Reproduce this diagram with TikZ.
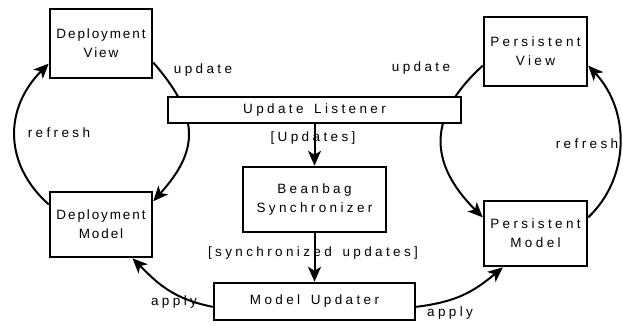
\documentclass[tikz,border=0pt]{standalone}
\usepackage{fontspec}
\setmainfont[LetterSpace=25,WordSpace=1.5]{Liberation Sans}
\newfontfamily\squeezed[LetterSpace=14]{Liberation Sans}
\usetikzlibrary{arrows.meta,backgrounds}

\tikzset{
  box/.style={draw, line width=2.5pt, fill=white, align=center, inner sep=1pt,
    font=\fontsize{13.5}{19}\selectfont},
  lbl/.style={inner sep=0pt, font=\fontsize{13.5}{15}\selectfont},
  flow/.style={line width=2pt, -{Stealth[length=15pt,width=13pt,inset=4pt]}}
}

\begin{document}
\begin{tikzpicture}[x=1pt,y=-1pt]
            \useasboundingbox (0,0) rectangle (623,325);
            \node[box, minimum width=102pt, minimum height=69pt] (dview) at (101,43.5) {\squeezed Deployment\\\squeezed View};
            \node[box, minimum width=103pt, minimum height=69pt] (pview) at (535.5,51.5) {Persistent\\View};
            \node[box, minimum width=102pt, minimum height=65pt] (dmodel) at (101,224.5) {\squeezed Deployment\\\squeezed Model};
            \node[box, minimum width=103pt, minimum height=65pt] (pmodel) at (535.5,233.5) {Persistent\\Model};
            \node[box, minimum width=293pt, minimum height=26pt] (listener) at (314.5,110) {Update Listener};
            \node[box, minimum width=143pt, minimum height=65pt] (sync) at (314.5,199.5) {Beanbag\\Synchronizer};
            \node[box, minimum width=201pt, minimum height=37pt] (updater) at (314.5,301.5) {Model Updater};
            \node[lbl] (upd1) at (203,70) {update};
            \node[lbl] (upd2) at (421,68) {update};
            \node[lbl] (ref1) at (59,133) {refresh};
            \node[lbl] (ref2) at (587,144) {refresh};
            \node[lbl] (updates) at (313,138) {[Updates]};
            \node[lbl] (syncupd) at (313,253) {[synchronized updates]};
            \node[lbl] (app1) at (174,302) {apply};
            \node[lbl] (app2) at (450,313) {apply};
            \begin{pgfonlayer}{background}
            \draw[flow] (dview.-20) .. controls +(48,55) and +(45,-50) .. (dmodel.24);
            \draw[flow] (dmodel.159) .. controls +(-45,-40) and +(-45,45) .. (dview.201);
            \draw[flow] (pview.195) .. controls +(-55,50) and +(-55,-55) .. (pmodel.163);
            \draw[flow] (pmodel.17) .. controls +(42,-40) and +(42,45) .. (pview.-15);
            \draw[flow] (updater.183) .. controls +(-40,-8) and +(25,25) .. (dmodel.-47);
            \draw[flow] (updater.-3) .. controls +(40,-5) and +(-30,25) .. (pmodel.-134);
            \draw[flow] (listener) -- (sync);
            \draw[flow] (sync) -- (updater);
            \end{pgfonlayer}
        \end{tikzpicture}
\end{document}
